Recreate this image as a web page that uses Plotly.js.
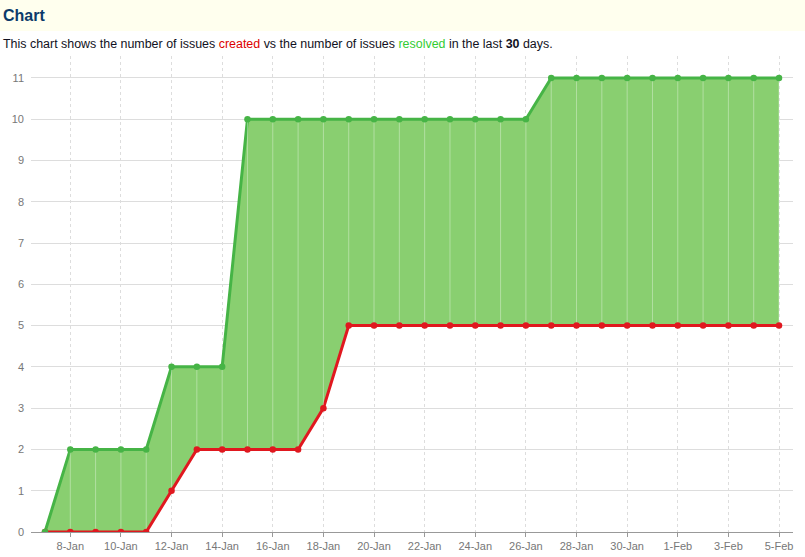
<!DOCTYPE html>
<html>
<head>
<meta charset="utf-8">
<script src="https://cdn.plot.ly/plotly-3.0.1.min.js"></script>
<style>
  html, body { margin: 0; padding: 0; background: #ffffff; width: 805px; height: 557px; overflow: hidden; }
  #band { position: absolute; left: 0; top: 0; width: 805px; height: 31px; background: #ffffee; z-index: 0; }
  #title { position: absolute; left: 3px; top: 7px; font: bold 16px "Liberation Sans", Arial, sans-serif; color: #0b3a6a; z-index: 3; }
  #sub { position: absolute; left: 3px; top: 37px; font: 12.45px "Liberation Sans", Arial, sans-serif; color: #111122; z-index: 3; white-space: nowrap; }
  #sub .c { color: #dd0000; }
  #sub .r { color: #33cc33; }
  #plot { position: absolute; left: 0; top: 0; width: 805px; height: 557px; z-index: 1; }
</style>
</head>
<body>
<div id="band"></div>
<div id="title">Chart</div>
<div id="sub">This chart shows the number of issues <span class="c">created</span> vs the number of issues <span class="r">resolved</span> in the last <b>30</b> days.</div>
<div id="plot"></div>
<script>
const dates = [
  '2015-01-07','2015-01-08','2015-01-09','2015-01-10','2015-01-11','2015-01-12',
  '2015-01-13','2015-01-14','2015-01-15','2015-01-16','2015-01-17','2015-01-18',
  '2015-01-19','2015-01-20','2015-01-21','2015-01-22','2015-01-23','2015-01-24',
  '2015-01-25','2015-01-26','2015-01-27','2015-01-28','2015-01-29','2015-01-30',
  '2015-01-31','2015-02-01','2015-02-02','2015-02-03','2015-02-04','2015-02-05'
];
const created  = [0,0,0,0,0,1,2,2,2,2,2,3,5,5,5,5,5,5,5,5,5,5,5,5,5,5,5,5,5,5];
const resolved = [0,2,2,2,2,4,4,4,10,10,10,10,10,10,10,10,10,10,10,10,11,11,11,11,11,11,11,11,11,11];
const yTicks = [0,1,2,3,4,5,6,7,8,9,10,11];

const red = '#e0181f';
const green = '#46b446';
const fillGreen = '#89cf70';

// separator lines inside the filled band, one per day, from created to resolved
const vx = [], vy = [];
dates.forEach((d, i) => {
  if (resolved[i] !== created[i]) { vx.push(d, d, null); vy.push(created[i], resolved[i], null); }
});

const traces = [
  { x: dates, y: created, mode: 'lines', line: { color: red, width: 3 }, hoverinfo: 'skip' },
  { x: dates, y: resolved, mode: 'lines', fill: 'tonexty', fillcolor: fillGreen,
    line: { color: green, width: 3 }, hoverinfo: 'skip' },
  { x: vx, y: vy, mode: 'lines', line: { color: 'rgba(255,255,255,0.35)', width: 1 }, hoverinfo: 'skip' },
  { x: dates, y: created, mode: 'markers', marker: { color: red, size: 6.5 }, hoverinfo: 'skip' },
  { x: dates, y: resolved, mode: 'markers', marker: { color: green, size: 6.5 }, hoverinfo: 'skip' }
];

const layout = {
  width: 805, height: 557,
  margin: { l: 31, r: 12, t: 56, b: 25 },
  paper_bgcolor: 'rgba(0,0,0,0)',
  plot_bgcolor: 'rgba(0,0,0,0)',
  showlegend: false,
  xaxis: {
    type: 'date',
    range: ['2015-01-06 10:45', '2015-02-05 13:15'],
    tick0: '2015-01-08', dtick: 2 * 86400000,
    tickformat: '%-d-%b',
    showgrid: true, gridcolor: '#dddddd', griddash: '3px,3px', gridwidth: 1,
    showline: true, linecolor: '#999999', linewidth: 1,
    ticks: 'outside', ticklen: 4, tickcolor: '#999999',
    tickfont: { family: 'Liberation Sans, Arial, sans-serif', size: 11, color: '#777777' },
    zeroline: false, fixedrange: true
  },
  yaxis: {
    range: [0, 11.53],
    tickvals: yTicks,
    showgrid: true, gridcolor: '#dddddd', gridwidth: 1,
    showline: false, zeroline: false,
    ticks: '', ticklabelstandoff: 6,
    tickfont: { family: 'Liberation Sans, Arial, sans-serif', size: 11, color: '#777777' },
    fixedrange: true
  }
};

Plotly.newPlot('plot', traces, layout, { displayModeBar: false, staticPlot: true });
</script>
</body>
</html>
